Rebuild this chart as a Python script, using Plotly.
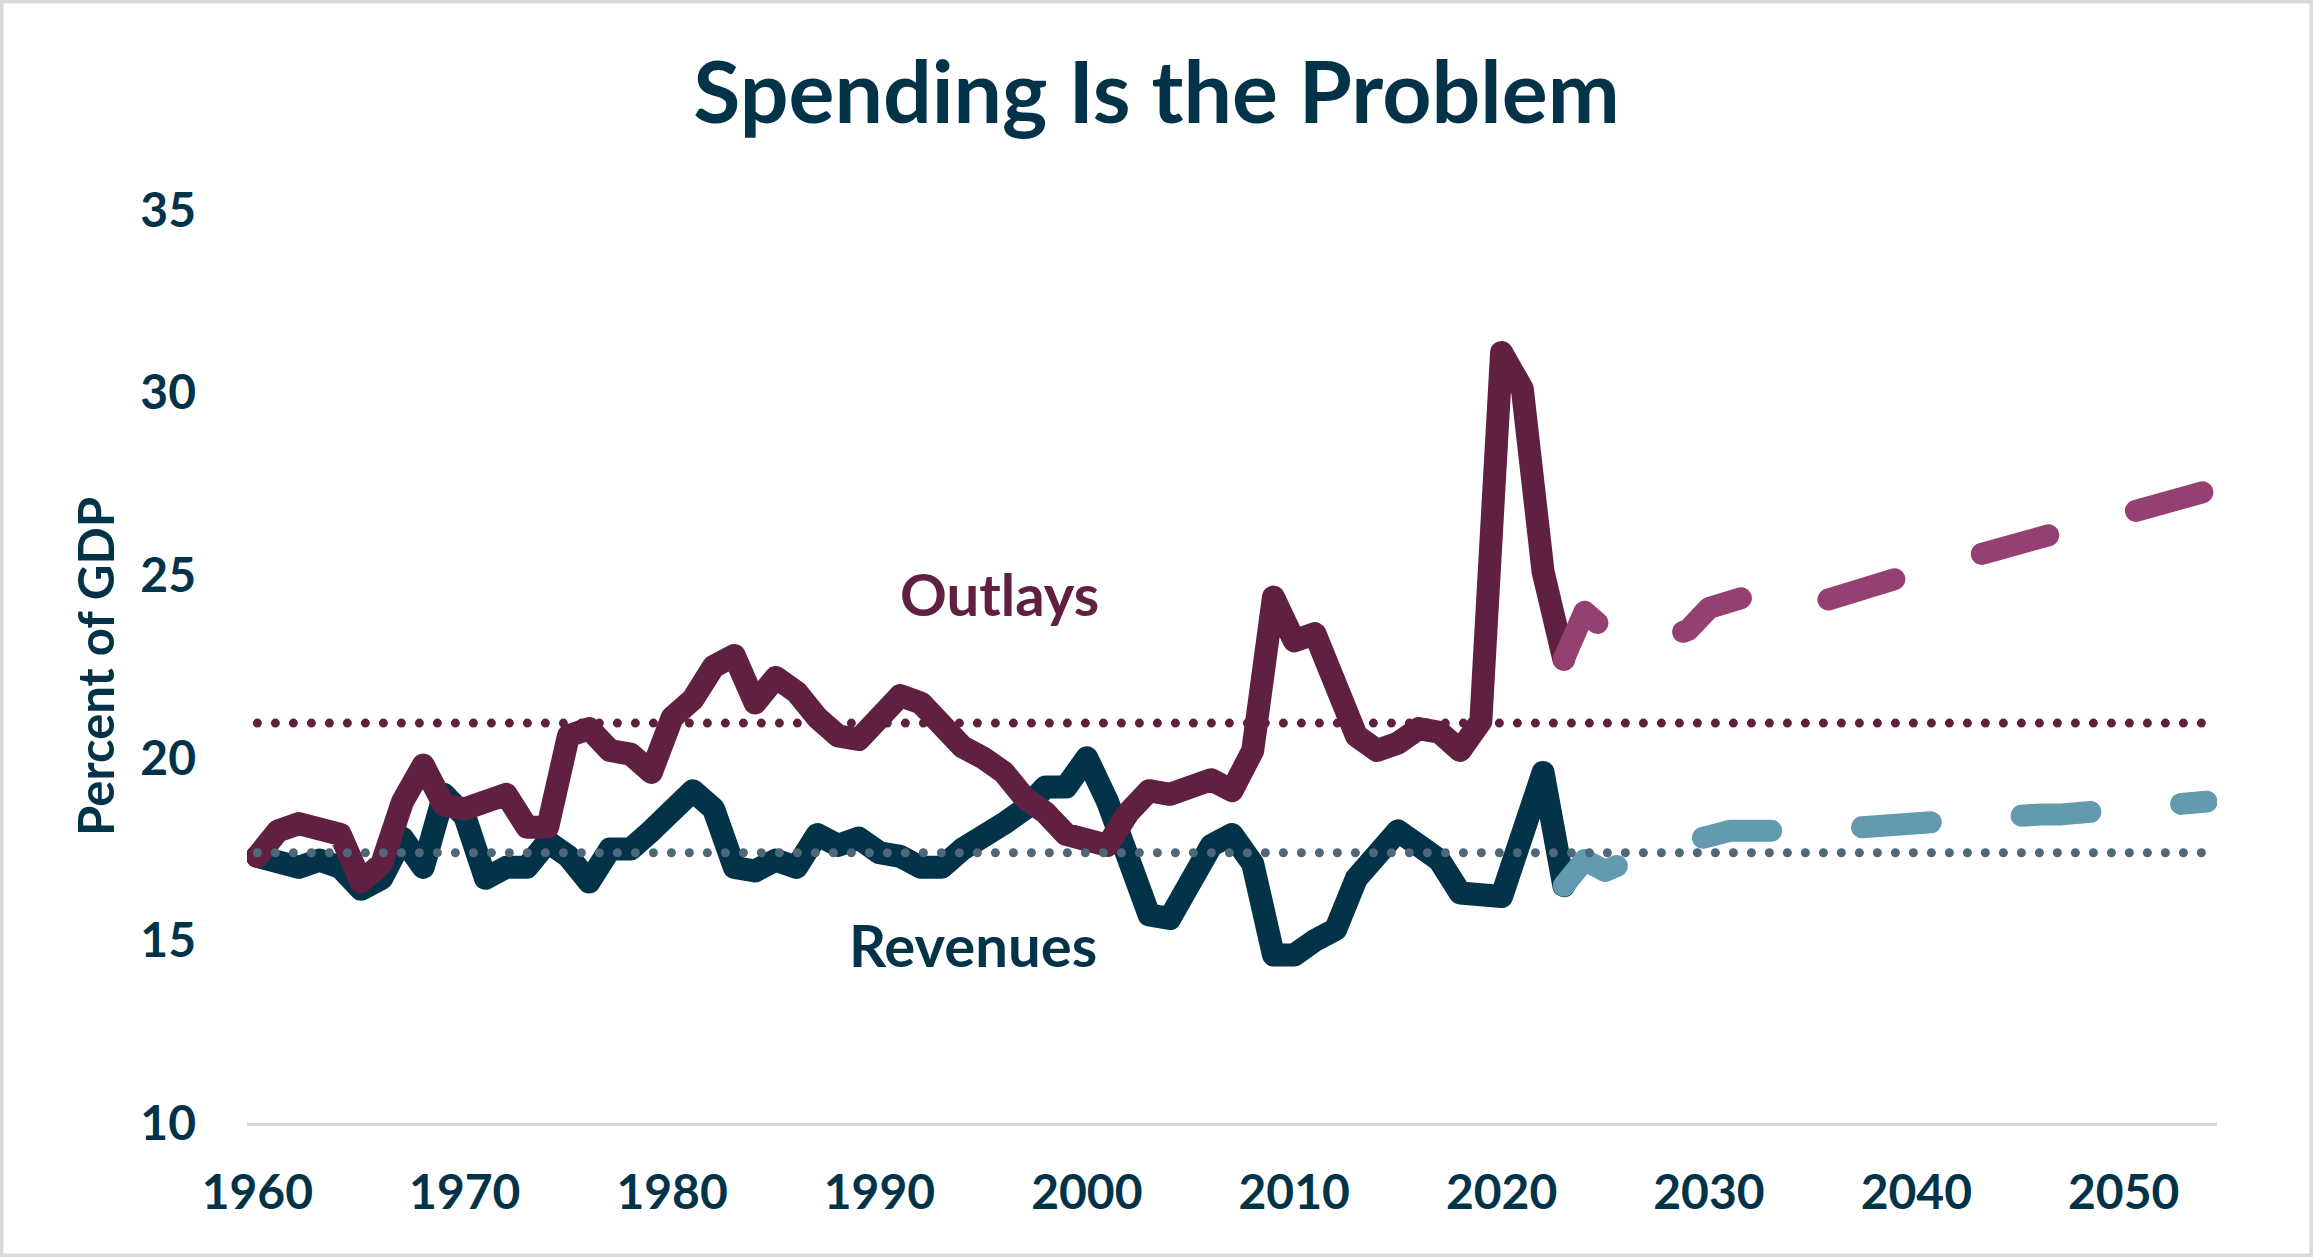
import plotly.graph_objects as go

# historical data, percent of GDP
years = list(range(1960, 2024))
outlays = [17.3, 18.0, 18.2, 18.0, 17.9, 16.6, 17.1, 18.8, 19.8, 18.7,
           18.6, 18.8, 19.0, 18.1, 18.1, 20.6, 20.8, 20.2, 20.1, 19.6,
           21.1, 21.6, 22.5, 22.8, 21.5, 22.2, 21.8, 21.1, 20.6, 20.5,
           21.2, 21.7, 21.5, 20.8, 20.3, 20.0, 19.6, 18.9, 18.5, 17.9,
           17.7, 17.6, 18.5, 19.1, 19.0, 19.2, 19.4, 19.1, 20.2, 24.4,
           23.2, 23.4, 21.9, 20.6, 20.2, 20.4, 20.8, 20.7, 20.2, 21.0,
           31.1, 30.1, 25.1, 22.7]
revenues = [17.3, 17.2, 17.0, 17.2, 17.0, 16.4, 16.7, 17.8, 17.0, 19.0,
            18.4, 16.7, 17.0, 17.0, 17.7, 17.3, 16.6, 17.5, 17.5, 18.0,
            18.5, 19.1, 18.6, 17.0, 16.9, 17.2, 17.0, 17.9, 17.6, 17.8,
            17.4, 17.3, 17.0, 17.0, 17.5, 17.8, 18.2, 18.6, 19.2, 19.2,
            20.0, 18.8, 17.0, 15.7, 15.6, 16.7, 17.6, 17.9, 17.1, 14.6,
            14.6, 15.0, 15.3, 16.7, 17.4, 18.0, 17.6, 17.2, 16.3, 16.3,
            16.2, 17.9, 19.6, 16.5]

# projections
proj_years = list(range(2023, 2055))
outlays_proj = [22.7, 24.0, 23.5, 23.3, 23.2, 23.3, 23.5, 24.1, 24.35, 24.45,
                24.3, 24.1, 24.2, 24.4, 24.6, 24.8, 24.95, 25.1, 25.25, 25.4,
                25.55, 25.7, 25.85, 26.0, 26.15, 26.3, 26.5, 26.65, 26.8, 27.0,
                27.2, 27.3]
revenues_proj = [16.5, 17.2, 16.9, 17.2, 17.4, 17.6, 17.8, 17.85, 18.0, 17.95,
                 17.95, 18.0, 18.0, 18.05, 18.1, 18.1, 18.15, 18.2, 18.25, 18.3,
                 18.3, 18.35, 18.4, 18.45, 18.45, 18.5, 18.55, 18.6, 18.6, 18.7,
                 18.75, 18.8]

# long-run averages
avg_years = [1960, 2054]
outlays_avg = 20.95
revenues_avg = 17.4

NAVY = "#023349"
MAROON = "#602041"
PINK = "#944071"
LIGHTBLUE = "#639AB0"
GRAYBLUE = "#4F6878"
FONT = "Lato"

W, H = 2313, 1257
L, R, T, B = 247, 96, 210, 134

fig = go.Figure()
fig.add_trace(go.Scatter(x=years, y=revenues, mode="lines",
                         line=dict(color=NAVY, width=23)))
fig.add_trace(go.Scatter(x=years, y=outlays, mode="lines",
                         line=dict(color=MAROON, width=23)))
fig.add_trace(go.Scatter(x=proj_years, y=outlays_proj, mode="lines",
                         line=dict(color=PINK, width=22, dash="69px,91px")))
fig.add_trace(go.Scatter(x=proj_years, y=revenues_proj, mode="lines",
                         line=dict(color=LIGHTBLUE, width=22, dash="69px,91px")))
fig.add_trace(go.Scatter(x=avg_years, y=[outlays_avg] * 2, mode="lines",
                         line=dict(color=MAROON, width=9, dash="0px,18px")))
fig.add_trace(go.Scatter(x=avg_years, y=[revenues_avg] * 2, mode="lines",
                         line=dict(color=GRAYBLUE, width=9, dash="0px,18px")))

fig.add_annotation(x=1995.8, y=24.5, text="Outlays", showarrow=False,
                   font=dict(family=FONT, size=58, color=MAROON, weight="bold"))
fig.add_annotation(x=1994.5, y=14.9, text="Revenues", showarrow=False,
                   font=dict(family=FONT, size=58, color=NAVY, weight="bold"))

pw = W - L - R
ph = H - T - B
fig.add_shape(type="rect", xref="paper", yref="paper",
              x0=-L / pw, x1=1 + R / pw, y0=-B / ph, y1=1 + T / ph,
              line=dict(color="#D9D9D9", width=7), layer="below")

fig.update_layout(
    width=W, height=H,
    margin=dict(l=L, r=R, t=T, b=B),
    paper_bgcolor="white", plot_bgcolor="white",
    showlegend=False,
    title=dict(text="Spending Is the Problem", x=0.5, xanchor="center",
               y=1 - 93 / H, yanchor="middle",
               font=dict(family=FONT, size=86, color=NAVY, weight="bold")),
)
fig.update_xaxes(range=[1959.5, 2054.5], tickvals=list(range(1960, 2051, 10)),
                 showgrid=False, zeroline=False, showline=True,
                 linecolor="#D9D9D9", linewidth=3, ticks="",
                 ticklabelstandoff=25,
                 tickfont=dict(family=FONT, size=48, color=NAVY, weight="bold"))
fig.update_yaxes(range=[10, 35], tickvals=[10, 15, 20, 25, 30, 35],
                 showgrid=False, zeroline=False, showline=False, ticks="",
                 ticklabelstandoff=50,
                 title=dict(text="Percent of GDP", standoff=10,
                            font=dict(family=FONT, size=49, color=NAVY, weight="bold")),
                 tickfont=dict(family=FONT, size=48, color=NAVY, weight="bold"))

# round line caps/joins like the original, and no page margin
post = """
var s = document.createElement('style');
s.innerHTML = 'body{margin:0;} .scatterlayer .js-line{stroke-linejoin:round !important;stroke-linecap:round !important;}';
document.head.appendChild(s);
"""
fig.write_html("out.html", post_script=post, config={"displayModeBar": False})
